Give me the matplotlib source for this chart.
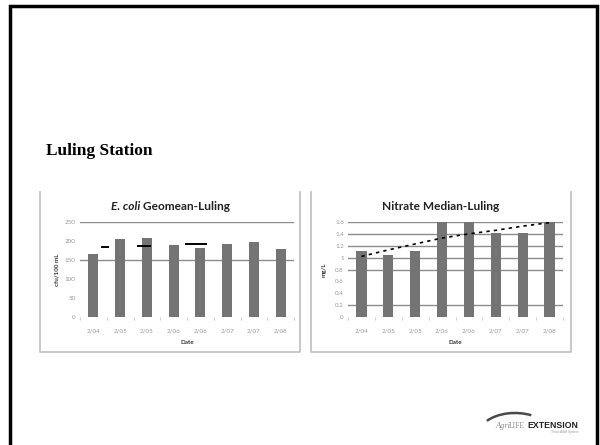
import matplotlib
matplotlib.use("Agg")
import matplotlib.pyplot as plt
from matplotlib.patches import Arc

# Data
dates = ["2/04", "2/05", "2/05", "2/06", "2/06", "2/07", "2/07", "2/08"]

ecoli = [166, 205, 209, 189, 182, 192, 198, 178]
ecoli_ticks = [0, 50, 100, 150, 200, 250]
ecoli_grid = [150, 250]
# the dashed trend shows up as three short pieces
ecoli_trend_y = [184, 188, 192]
ecoli_trend_x0 = [0.28, 1.63, 3.41]
ecoli_trend_x1 = [0.58, 2.14, 4.24]

nitrate = [1.11, 1.04, 1.11, 1.60, 1.60, 1.41, 1.41, 1.60]
nitrate_ticks = [0, 0.2, 0.4, 0.6, 0.8, 1, 1.2, 1.4, 1.6]
nitrate_tick_labels = ["0", "0.2", "0.4", "0.6", "0.8", "1", "1.2", "1.4", "1.6"]
nitrate_grid = [0.2, 0.8, 1.0, 1.2, 1.4, 1.6]
nitrate_trend = [1.02, 1.13, 1.23, 1.33, 1.40, 1.46, 1.53, 1.59]

BAR = "#747474"
GRID = "#8c8c8c"
TICK = "#999999"
SANS = ["Lato", "DejaVu Sans"]

fig = plt.figure(figsize=(6, 4.45), dpi=100)

# background layer in pixel coordinates for the slide decorations
bg = fig.add_axes([0, 0, 1, 1])
bg.set_xlim(0, 600)
bg.set_ylim(445, 0)
bg.axis("off")

# slide frame (no bottom edge visible)
bg.plot([10, 10, 597, 597], [445, 6, 6, 445], color="black", lw=2.5,
        solid_joinstyle="miter")

bg.text(46, 151, "Luling Station", family="Liberation Serif", weight="bold",
        fontsize=12.5, va="center", ha="left")

# chart frames
for x0, x1 in [(40, 300), (311, 571)]:
    bg.plot([x0, x0, x1, x1], [192, 352, 352, 192], color="#c4c4c4", lw=1.3)

# logo
bg.add_patch(Arc((515, 434), 72, 42, theta1=205, theta2=311, color="#4a4a4a", lw=1.8))
bg.text(495, 428, "Agri", family="Liberation Serif", style="italic",
        color="#8a8a8a", fontsize=6, va="baseline")
bg.text(509, 428, "LIFE", family="Liberation Serif", color="#8a8a8a",
        fontsize=5.5, va="baseline")
bg.text(527, 428, "EXTENSION", family="Liberation Sans", weight="bold",
        color="#222222", fontsize=6.3, va="baseline")
bg.text(579, 433, "Texas A&M System", family="Liberation Sans",
        color="#999999", fontsize=2.3, va="baseline", ha="right")


def style_axes(ax, ticks, labels, grid):
    for s in ax.spines.values():
        s.set_visible(False)
    for g in grid:
        ax.axhline(g, color=GRID, lw=1, zorder=1)
    ax.set_xlim(-0.5, len(dates) - 0.5)
    ax.set_yticks(ticks)
    ax.set_yticklabels(labels)
    ax.set_xticks(range(len(dates)))
    ax.set_xticklabels(dates)
    ax.set_xticks([i - 0.5 for i in range(len(dates) + 1)], minor=True)
    ax.tick_params(axis="both", which="major", length=0, labelsize=4.5,
                   labelcolor=TICK)
    ax.tick_params(axis="x", which="major", pad=8)
    ax.tick_params(axis="y", which="major", pad=3)
    ax.tick_params(axis="x", which="minor", length=2, color="#d0d0d0", width=0.8)
    ax.set_xlabel("Date", fontsize=4.5, weight="bold", family=SANS,
                  color="#333333", labelpad=5)
    for t in ax.get_xticklabels() + ax.get_yticklabels():
        t.set_family(SANS)


# E. coli chart
ax1 = fig.add_axes([80 / 600, 1 - 317 / 445, 214 / 600, 95 / 445])
ax1.bar(range(len(dates)), ecoli, width=0.38, color=BAR, zorder=2)
ax1.hlines(ecoli_trend_y, ecoli_trend_x0, ecoli_trend_x1, color="black",
           lw=1.4, zorder=3)
ax1.set_ylim(0, 250)
style_axes(ax1, ecoli_ticks, [str(v) for v in ecoli_ticks], ecoli_grid)
ax1.set_ylabel("cfu/100 mL", fontsize=4.5, weight="bold", family=SANS,
               color="#333333", labelpad=4)
bg.text(140, 206, "E. coli", fontsize=8.6, weight="bold", style="italic",
        family=SANS, ha="right", va="center", color="#222222")
bg.text(140, 206, " Geomean-Luling", fontsize=8.6, weight="bold",
        family=SANS, ha="left", va="center", color="#222222")

# Nitrate chart
ax2 = fig.add_axes([348 / 600, 1 - 317 / 445, 215 / 600, 95 / 445])
ax2.bar(range(len(dates)), nitrate, width=0.38, color=BAR, zorder=2)
ax2.plot(range(len(dates)), nitrate_trend, color="black", lw=1.2,
         ls=(0, (2, 2.5)), zorder=3, clip_on=False)
ax2.set_ylim(0, 1.6)
style_axes(ax2, nitrate_ticks, nitrate_tick_labels, nitrate_grid)
ax2.set_ylabel("mg/L", fontsize=4.5, weight="bold", family=SANS,
               color="#333333", labelpad=6)
bg.text(441, 206, "Nitrate Median-Luling", fontsize=8.6, weight="bold",
        family=SANS, ha="center", va="center", color="#222222")

fig.savefig("out.png", dpi=100)
